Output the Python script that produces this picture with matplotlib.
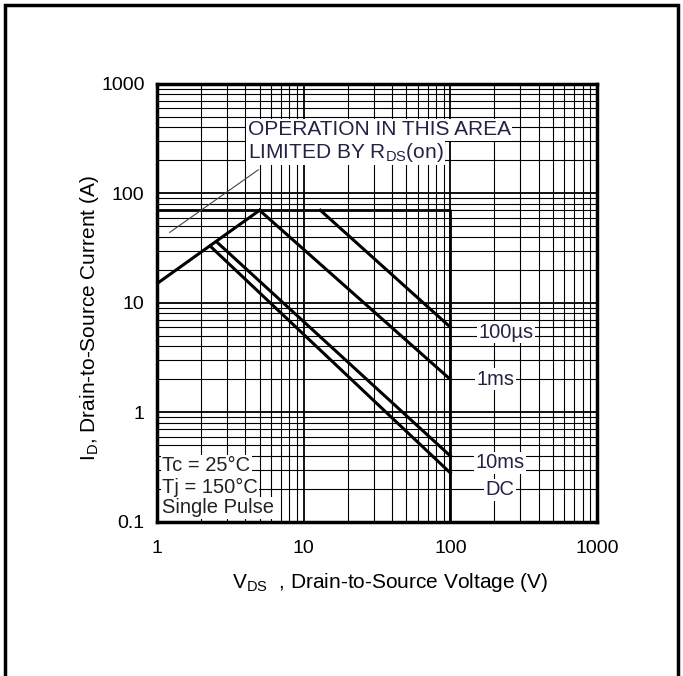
import numpy as np
import matplotlib
matplotlib.use("Agg")
import matplotlib.pyplot as plt
from matplotlib.patches import Rectangle
from matplotlib.ticker import LogLocator, NullFormatter, FixedLocator, FixedFormatter

plt.rcParams['font.family'] = ['Liberation Sans', 'DejaVu Sans']

# SOA curves (V_DS in V, I_D in A)
rds_v = [1, 5]
rds_i = [15, 70]
us100_v = [13, 100]
us100_i = [70, 6]
ms1_v = [5, 100]
ms1_i = [70, 2]
ms10_v = [2.55, 100]
ms10_i = [36, 0.4]
dc_v = [2.3, 100]
dc_i = [33, 0.28]
# package current limit and max voltage box
limit_i = 70
limit_v = 100

curve_labels = ['100\u00b5s', '1ms', '10ms', 'DC']
label_v = [240, 203, 219, 219]
label_i = [5.4, 2.0, 0.345, 0.196]

cond_lines = ['Tc = 25\u00b0C', 'Tj = 150\u00b0C', 'Single Pulse']
cond_i = [0.325, 0.204, 0.134]

txtcol = '#222244'

fig = plt.figure(figsize=(6.83, 6.76), dpi=100)
ax = fig.add_axes([0.230, 0.228, 0.644, 0.648])
ax.set_xscale('log')
ax.set_yscale('log')
ax.set_xlim(1, 1000)
ax.set_ylim(0.1, 1000)

ax.xaxis.set_minor_locator(LogLocator(base=10, subs=np.arange(2, 10)))
ax.yaxis.set_minor_locator(LogLocator(base=10, subs=np.arange(2, 10)))
ax.grid(True, which='major', color='black', lw=1.3)
ax.grid(True, which='minor', color='black', lw=0.8)
ax.set_axisbelow(True)
ax.tick_params(which='both', length=0, labelsize=14)
ax.tick_params(axis='x', pad=13)
ax.tick_params(axis='y', pad=9)
ax.xaxis.set_minor_formatter(NullFormatter())
ax.yaxis.set_minor_formatter(NullFormatter())
ax.xaxis.set_major_locator(FixedLocator([1, 10, 100, 1000]))
ax.xaxis.set_major_formatter(FixedFormatter(['1', '10', '100', '1000']))
ax.yaxis.set_major_locator(FixedLocator([0.1, 1, 10, 100, 1000]))
ax.yaxis.set_major_formatter(FixedFormatter(['0.1', '1', '10', '100', '1000']))
for s in ax.spines.values():
    s.set_linewidth(2.5)

# limit box
ax.plot([1, limit_v, limit_v], [limit_i, limit_i, 0.1], color='black', lw=2)

lw = 2.2
ax.plot(rds_v, rds_i, color='black', lw=lw)
ax.plot(us100_v, us100_i, color='black', lw=lw)
ax.plot(ms1_v, ms1_i, color='black', lw=lw)
ax.plot(ms10_v, ms10_i, color='black', lw=lw)
ax.plot(dc_v, dc_i, color='black', lw=lw)

for lab, xv, yi in zip(curve_labels, label_v, label_i):
    ax.text(xv, yi, lab, ha='center', va='center', fontsize=14.5, color=txtcol,
            bbox=dict(facecolor='white', edgecolor='none', pad=1))

ax.text(4.15, 380, 'OPERATION IN THIS AREA', ha='left', va='center',
        fontsize=15, color=txtcol,
        bbox=dict(facecolor='white', edgecolor='none', pad=1))
ax.text(4.15, 236, 'LIMITED BY R$_{\\mathregular{DS}}$(on)', ha='left', va='center',
        fontsize=15, color=txtcol,
        bbox=dict(facecolor='white', edgecolor='none', pad=1))
ax.plot([1.22, 4.9], [44, 164], color='#444444', lw=0.8)

for line, yi in zip(cond_lines, cond_i):
    ax.text(1.08, yi, line, ha='left', va='center', fontsize=14.5, color='#222222',
            bbox=dict(facecolor='white', edgecolor='none', pad=1))

ax.set_xlabel('V$_{\\mathregular{DS}}$  , Drain-to-Source Voltage (V)', fontsize=15)
ax.set_ylabel('I$_{\\mathregular{D}}$, Drain-to-Source Current (A)', fontsize=15)
ax.xaxis.set_label_coords(0.53, -0.113)
ax.yaxis.set_label_coords(-0.127, 0.466)

# outer frame of the datasheet figure
fig.patches.append(Rectangle((0.007, -0.05), 0.986, 1.043, transform=fig.transFigure,
                             fill=False, edgecolor='black', lw=2.5))

fig.savefig('out.png', dpi=100)
